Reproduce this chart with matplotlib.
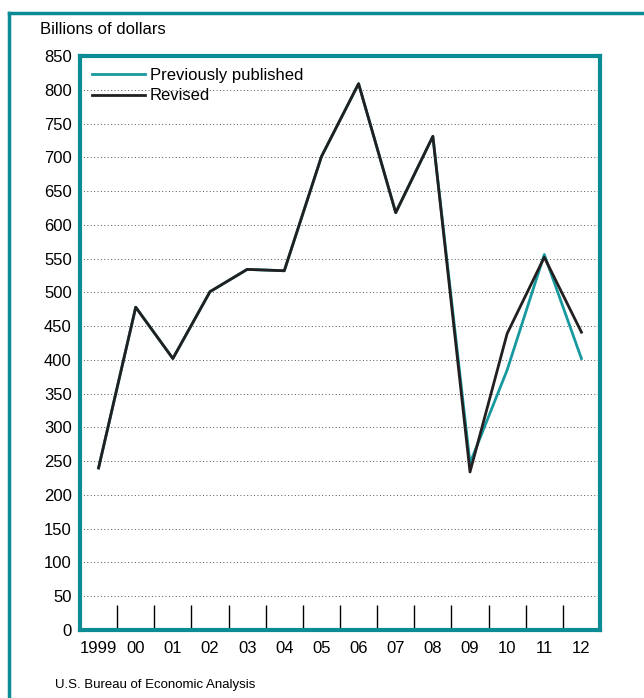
import matplotlib
matplotlib.use('Agg')
import matplotlib.pyplot as plt
from matplotlib.lines import Line2D

plt.rcParams['font.family'] = ['Liberation Sans Narrow', 'Liberation Sans', 'DejaVu Sans']

# Data
years = ['1999', '00', '01', '02', '03', '04', '05', '06', '07', '08', '09', '10', '11', '12']
previous = [240, 478, 402, 501, 534, 532, 701, 809, 618, 731, 247, 385, 556, 402]
revised = [240, 478, 402, 501, 534, 532, 701, 809, 618, 731, 234, 439, 552, 441]
y_ticks = list(range(0, 851, 50))

teal = '#0b8c95'
teal_line = '#17999f'
dark = '#231f20'

fig = plt.figure(figsize=(6.44, 6.98), dpi=100)
ax = fig.add_axes([80 / 644, 68 / 698, 520 / 644, 574 / 698])

x = list(range(len(years)))
ax.plot(x, previous, color=teal_line, lw=2, label='Previously published', zorder=3)
ax.plot(x, revised, color=dark, lw=2, label='Revised', zorder=4)

ax.set_xlim(-0.5, 13.5)
ax.set_ylim(0, 850)
ax.set_yticks(y_ticks)
ax.set_yticklabels([str(v) for v in y_ticks], fontsize=12)
ax.tick_params(axis='y', length=0, pad=6)

ax.set_xticks(x)
ax.set_xticklabels(years, fontsize=12)
ax.tick_params(axis='x', which='major', length=0, pad=8)
ax.set_xticks([i + 0.5 for i in range(13)], minor=True)
ax.tick_params(axis='x', which='minor', direction='in', length=18, width=1, color='black')

# dotted gridlines
for v in y_ticks[1:-1]:
    ax.axhline(v, color='#555555', lw=0.7, ls=(0, (1, 2.5)), zorder=1)

for s in ax.spines.values():
    s.set_color(teal)
    s.set_linewidth(3)

leg = ax.legend(loc='upper left', bbox_to_anchor=(0.0, 1.0), frameon=False, fontsize=12,
                handlelength=3.2, handletextpad=0.3, labelspacing=0.35, borderaxespad=0.3)

fig.text(40 / 644, 1 - 30 / 698, 'Billions of dollars', fontsize=12, va='center', ha='left')
fig.text(55 / 644, 1 - 685 / 698, 'U.S. Bureau of Economic Analysis', fontsize=9.5, va='center', ha='left')

# outer frame (left and top edges)
fig.add_artist(Line2D([9 / 644, 9 / 644], [0, 1 - 13 / 698], transform=fig.transFigure, color=teal, lw=2.5))
fig.add_artist(Line2D([9 / 644, 1], [1 - 13 / 698, 1 - 13 / 698], transform=fig.transFigure, color=teal, lw=2.5))

fig.savefig('out.png', dpi=100)
